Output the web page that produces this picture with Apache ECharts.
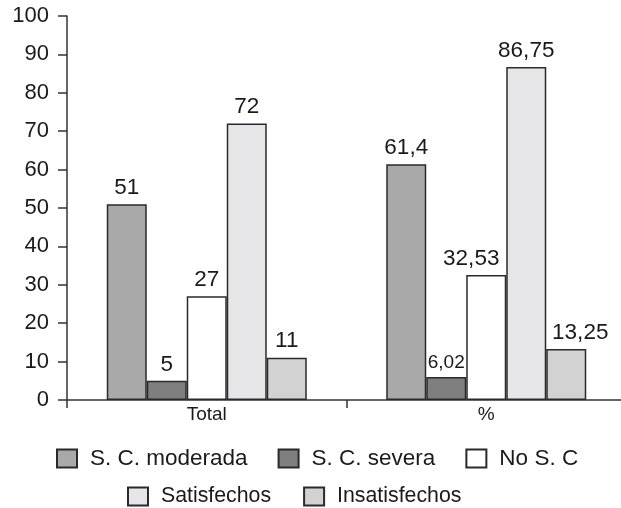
<!DOCTYPE html>
<html>
<head>
<meta charset="utf-8">
<script src="https://cdn.jsdelivr.net/npm/echarts@6/dist/echarts.min.js"></script>
<style>
  html, body { margin: 0; padding: 0; background: #fff; overflow: hidden; width: 621px; height: 508px; }
  /* canvas is a little wider than the window so the closing axis tick falls outside */
  #chart { width: 626px; height: 508px; }
</style>
</head>
<body>
<div id="chart"></div>
<script>
// Categories and values per group
const categories = ['Total', '%'];
const seriesNames = ['S. C. moderada', 'S. C. severa', 'No S. C', 'Satisfechos', 'Insatisfechos'];
const moderada = [51, 61.4];
const severa = [5, 6.02];
const noSC = [27, 32.53];
const satisfechos = [72, 86.75];
const insatisfechos = [11, 13.25];
const yTicks = [0, 10, 20, 30, 40, 50, 60, 70, 80, 90, 100];

const fills = ['#a9a9aa', '#7f7f80', '#ffffff', '#e6e6e8', '#d2d2d3'];
const values = [moderada, severa, noSC, satisfechos, insatisfechos];
const FONT = 'Liberation Sans, Arial, sans-serif';

// Spanish decimal comma
const fmt = v => String(v).replace('.', ',');

// Label tweaks for the percentage group: narrow face for the small value,
// wide neighbours nudged apart so they do not collide
const labelTweaks = {
  1: { fontFamily: 'Liberation Sans Narrow, Arial Narrow, sans-serif', fontSize: 19 },
  2: { offset: [-15, 0] },
  4: { offset: [14, 0] }
};

const series = seriesNames.map((name, i) => ({
  name,
  type: 'bar',
  barWidth: 40,
  barGap: '0%',
  itemStyle: { color: fills[i], borderColor: '#2a2a2a', borderWidth: 1.5 },
  label: {
    show: true,
    position: 'top',
    distance: 5,
    color: '#1a1a1a',
    fontFamily: FONT,
    fontSize: 22.5,
    formatter: p => fmt(p.value)
  },
  data: values[i].map((v, j) => (j === 1 && labelTweaks[i]) ? { value: v, label: labelTweaks[i] } : v)
}));

const legendText = { color: '#1a1a1a', fontFamily: FONT, fontSize: 22.5, padding: [0, 0, 0, 8] };

const chart = echarts.init(document.getElementById('chart'), null, { renderer: 'canvas' });
chart.setOption({
  animation: false,
  backgroundColor: '#ffffff',
  grid: { left: 67, right: 0, top: 16, bottom: 108, containLabel: false },
  xAxis: {
    type: 'category',
    data: categories,
    axisLine: { lineStyle: { color: '#333', width: 1.5 } },
    axisTick: { show: true, length: 8, lineStyle: { color: '#333', width: 1.5 } },
    axisLabel: { color: '#1a1a1a', fontFamily: FONT, fontSize: 19, margin: 5 }
  },
  yAxis: {
    type: 'value',
    min: yTicks[0],
    max: yTicks[yTicks.length - 1],
    interval: yTicks[1] - yTicks[0],
    splitLine: { show: false },
    axisLine: { show: true, lineStyle: { color: '#333', width: 1.5 } },
    axisTick: { show: true, length: 9, lineStyle: { color: '#333', width: 1.5 } },
    axisLabel: { color: '#1a1a1a', fontFamily: FONT, fontSize: 22, margin: 18 }
  },
  legend: [
    {
      data: seriesNames.slice(0, 3),
      left: 51, top: 442,
      icon: 'rect', itemWidth: 20, itemHeight: 18, itemGap: 30,
      textStyle: legendText
    },
    {
      data: seriesNames.slice(3),
      left: 122, top: 481,
      icon: 'rect', itemWidth: 20, itemHeight: 18, itemGap: 32,
      textStyle: Object.assign({}, legendText, { fontSize: 21.3 })
    }
  ],
  series
});
</script>
</body>
</html>
